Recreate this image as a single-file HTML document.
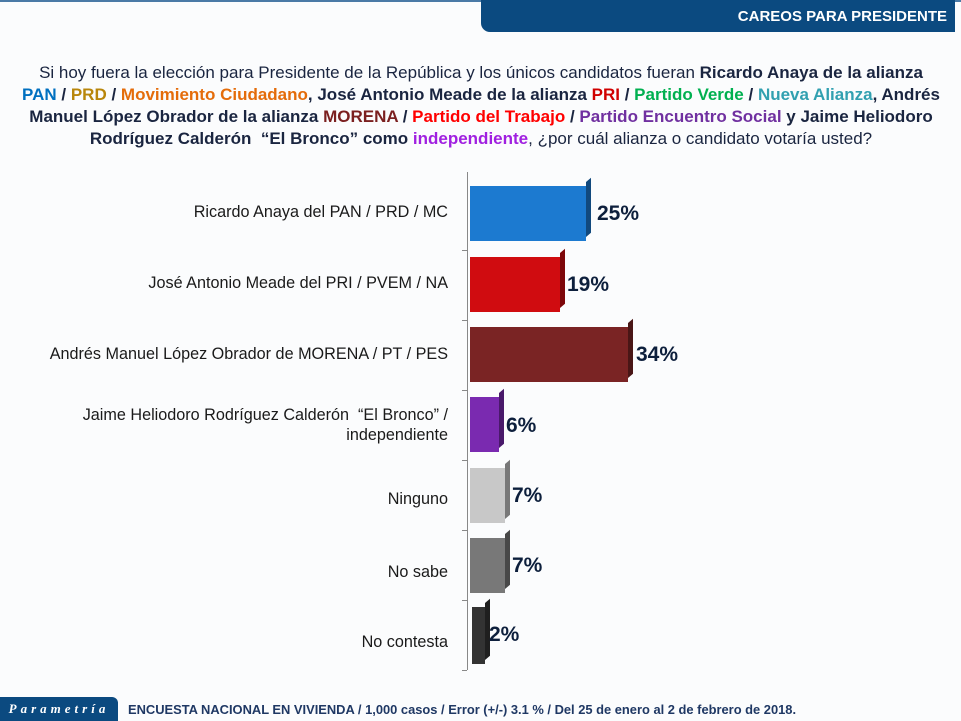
<!DOCTYPE html>
<html><head><meta charset="utf-8"><style>
body{margin:0;width:961px;height:721px;overflow:hidden;background:#fbfcfd;font-family:"Liberation Sans",sans-serif;position:relative}
.top{position:absolute;left:0;top:0;width:961px;height:2px;background:#4a7aa6}
.ban{position:absolute;left:481px;top:0;width:474px;height:32px;background:#0b4a80;border-bottom-left-radius:9px;color:#fff;font-weight:bold;font-size:15px;text-align:right;box-sizing:border-box;padding:8px 8px 0 0}
.t{position:absolute;left:0;width:962px;text-align:center;white-space:nowrap;font-size:17px;color:#1a2540}
.t b{font-weight:bold}
.lab{position:absolute;right:513px;text-align:right;font-size:16.2px;color:#1a1a1a;line-height:20px;white-space:nowrap}
.bar{position:absolute;left:470px;height:55px}
.bar:after{content:"";position:absolute;right:-5px;top:-4px;width:5px;height:100%;background:inherit;filter:brightness(.6);transform:skewY(-40deg);transform-origin:0 100%}
.pct{position:absolute;font-weight:bold;font-size:21px;color:#0d1f3c}
.ax{position:absolute;left:467px;top:172px;width:1px;height:498px;background:#888}
.tk{position:absolute;left:462px;width:5px;height:1px;background:#888}
.foot{position:absolute;left:0;top:697px;width:118px;height:24px;background:#0b4a80;border-top-right-radius:6px;color:#fff;font-style:italic;font-weight:bold;font-family:"Liberation Serif",serif;font-size:13px;letter-spacing:4px;line-height:24px;text-align:center}
.ft{position:absolute;left:128px;top:702px;font-weight:bold;font-size:12.9px;color:#1f3864;white-space:nowrap}
</style></head><body>
<div class="top"></div>
<div class="ban">CAREOS PARA PRESIDENTE</div>
<div class="t" style="top:63px">Si hoy fuera la elección para Presidente de la República y los únicos candidatos fueran <b>Ricardo Anaya de la alianza</b></div>
<div class="t" style="top:85px"><b><span style="color:#0070c0">PAN</span> / <span style="color:#b8860b">PRD</span> / <span style="color:#e46c0a">Movimiento Ciudadano</span>, José Antonio Meade de la alianza <span style="color:#d00000">PRI</span> / <span style="color:#00b050">Partido Verde</span> / <span style="color:#31a0b0">Nueva Alianza</span>, Andrés</b></div>
<div class="t" style="top:107px"><b>Manuel López Obrador de la alianza <span style="color:#7b2020">MORENA</span> / <span style="color:#ff0000">Partido del Trabajo</span> / <span style="color:#7030a0">Partido Encuentro Social</span> y Jaime Heliodoro</b></div>
<div class="t" style="top:129px"><b>Rodríguez Calderón&nbsp; “El Bronco” como <span style="color:#a020e0">independiente</span></b>, ¿por cuál alianza o candidato votaría usted?</div>

<div class="ax"></div>
<div class="tk" style="top:250px"></div><div class="tk" style="top:320px"></div><div class="tk" style="top:390px"></div><div class="tk" style="top:460px"></div><div class="tk" style="top:530px"></div><div class="tk" style="top:600px"></div><div class="tk" style="top:670px"></div>

<div class="lab" style="top:202px">Ricardo Anaya del PAN / PRD / MC</div>
<div class="lab" style="top:273px">José Antonio Meade del PRI / PVEM / NA</div>
<div class="lab" style="top:344px">Andrés Manuel López Obrador de MORENA / PT / PES</div>
<div class="lab" style="top:405px">Jaime Heliodoro Rodríguez Calderón&nbsp; “El Bronco” /<br>independiente</div>
<div class="lab" style="top:489px">Ninguno</div>
<div class="lab" style="top:562px">No sabe</div>
<div class="lab" style="top:632px">No contesta</div>

<div class="bar" style="top:186px;width:116px;background:#1c7ad0"></div>
<div class="bar" style="top:257px;width:90px;background:#d00c10"></div>
<div class="bar" style="top:327px;width:158px;background:#7a2424"></div>
<div class="bar" style="top:397px;width:29px;background:#7a2ab0"></div>
<div class="bar" style="top:468px;width:35px;background:#c8c8c8"></div>
<div class="bar" style="top:538px;width:35px;background:#787878"></div>
<div class="bar" style="top:607px;left:472px;width:13px;height:57px;background:#333"></div>

<div class="pct" style="left:597px;top:202px">25%</div>
<div class="pct" style="left:567px;top:273px">19%</div>
<div class="pct" style="left:636px;top:343px">34%</div>
<div class="pct" style="left:506px;top:414px">6%</div>
<div class="pct" style="left:512px;top:484px">7%</div>
<div class="pct" style="left:512px;top:554px">7%</div>
<div class="pct" style="left:489px;top:623px">2%</div>

<div class="foot">Parametría</div>
<div class="ft">ENCUESTA NACIONAL EN VIVIENDA / 1,000 casos / Error (+/-) 3.1 % / Del 25 de enero al 2 de febrero de 2018.</div>
</body></html>
